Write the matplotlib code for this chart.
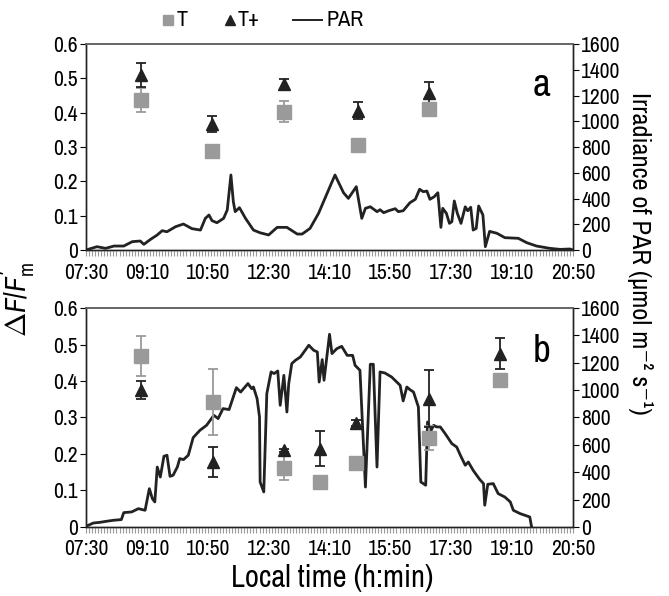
import numpy as np
import matplotlib
matplotlib.use("Agg")
import matplotlib.pyplot as plt
from matplotlib import font_manager
from matplotlib.lines import Line2D
from matplotlib.ticker import FixedLocator, MultipleLocator, FuncFormatter

# pick a narrow font if there is one
names = sorted(set(f.name for f in font_manager.fontManager.ttflist))
narrow = [n for n in names if ('Narrow' in n or 'Condensed' in n) and 'Mono' not in n
          and 'Serif' not in n]
fam = narrow[0] if narrow else ('Roboto' if 'Roboto' in names else 'DejaVu Sans')
plt.rcParams['font.family'] = [fam, 'DejaVu Sans']
plt.rcParams['mathtext.fontset'] = 'custom'
plt.rcParams['mathtext.rm'] = fam
plt.rcParams['mathtext.it'] = fam + ':italic'

# panel a: fluorescence
a_time = [540, 657, 775, 896, 1013]
a_T = [0.437, 0.287, 0.403, 0.306, 0.411]
a_T_err = [0.034, 0.012, 0.030, 0.010, 0.012]
a_Tp = [0.510, 0.367, 0.484, 0.406, 0.457]
a_Tp_err = [0.036, 0.022, 0.014, 0.025, 0.031]

# panel a: PAR
a_par_t = [450, 468, 482, 496, 512, 526, 539, 545, 556, 567, 575, 583, 597, 610, 624, 638,
           646, 652, 657, 665, 676, 682, 688, 692, 695, 702, 712, 725, 736, 750, 764, 780,
           797, 805, 818, 832, 846, 859, 873, 881, 894, 903, 909, 917, 928, 933, 939, 947,
           958, 963, 971, 982, 991, 998, 1004, 1010, 1015, 1022, 1028, 1033, 1036, 1042,
           1047, 1051, 1055, 1060, 1066, 1073, 1077, 1082, 1086, 1091, 1095, 1102, 1106,
           1113, 1125, 1138, 1160, 1174, 1190, 1212, 1229, 1245, 1250]
a_par = [0, 26, 13, 31, 31, 65, 70, 44, 83, 117, 150, 142, 181, 202, 166, 155,
         246, 272, 228, 212, 246, 311, 583, 375, 298, 329, 246, 155, 134, 117, 176, 176,
         124, 124, 168, 285, 440, 583, 445, 401, 492, 246, 324, 336, 298, 313, 290, 305,
         321, 298, 305, 367, 394, 472, 453, 458, 394, 414, 445, 176, 324, 285,
         207, 220, 381, 285, 207, 336, 305, 332, 155, 168, 342, 272, 26,
         145, 130, 96, 91, 57, 31, 13, 5, 8, 0]

# panel b: fluorescence
b_time = [541, 659, 776, 835, 894, 1014, 1130]
b_T = [0.468, 0.343, 0.162, 0.123, 0.175, 0.244, 0.402]
b_T_err = [0.054, 0.090, 0.032, 0.005, 0.005, 0.032, 0.005]
b_Tp = [0.375, 0.178, 0.210, 0.215, 0.285, 0.352, 0.475]
b_Tp_err = [0.025, 0.042, 0.005, 0.049, 0.008, 0.077, 0.042]

# panel b: PAR
b_par_t = [450, 462, 473, 484, 495, 508, 512, 525, 536, 547, 554, 559, 563, 567, 572, 578,
           583, 588, 593, 600, 604, 610, 618, 626, 637, 648, 660, 667, 675, 685, 697, 704,
           716, 722, 725, 731, 735, 736, 742, 747, 754, 759, 765, 769, 775, 780, 783, 788,
           794, 802, 810, 816, 824, 830, 833, 838, 841, 850, 854, 862, 870, 879, 888, 892,
           900, 909, 917, 922, 928, 933, 941, 952, 966, 971, 977, 982, 988, 996, 1000,
           1008, 1011, 1017, 1021, 1026, 1032, 1040, 1051, 1059, 1065, 1073, 1078, 1086,
           1097, 1103, 1105, 1110, 1119, 1127, 1138, 1147, 1152, 1163, 1179, 1182]
b_par = [5, 29, 34, 42, 49, 54, 105, 110, 134, 122, 280, 207, 183, 438, 365, 517,
         524, 370, 378, 438, 500, 492, 524, 653, 706, 743, 816, 792, 865, 858, 1018, 986,
         1048, 1011, 1023, 938, 804, 329, 256, 975, 1133, 1121, 1140, 889, 1108, 840, 1048, 1194,
         1218, 1242, 1291, 1328, 1291, 1279, 1059, 1223, 1072, 1408, 1267, 1303, 1320, 1254, 1254, 1181,
         1145, 292, 1189, 1189, 438, 1133, 1125, 1096, 1035, 921, 1023, 1004, 986, 877, 329,
         305, 767, 706, 743, 731, 731, 682, 609, 584, 524, 451, 475, 414,
         346, 317, 159, 312, 317, 244, 219, 183, 122, 98, 73, 0]

time_ticks = [450, 550, 650, 750, 850, 950, 1050, 1150, 1250]
left_ticks = [0, 0.1, 0.2, 0.3, 0.4, 0.5, 0.6]
right_ticks = [0, 200, 400, 600, 800, 1000, 1200, 1400, 1600]

grey = '#9a9a9a'
dark = '#222222'
W, H = 669, 596


def hhmm(v, pos):
    v = int(round(v))
    return "%02d:%02d" % (v // 60, v % 60)


def panel(ax, t, T, Terr, Tp, Tperr, pt, par, letter):
    ax2 = ax.twinx()
    ax2.plot(pt, par, color=dark, lw=2.0)
    ax2.set_ylim(0, 1600)
    ax2.yaxis.set_major_locator(FixedLocator(right_ticks))
    ax.set_zorder(ax2.get_zorder() + 1)
    ax.patch.set_visible(False)

    ax.errorbar(t, T, yerr=Terr, fmt='s', color=grey, ms=9.5, capsize=3.5,
                elinewidth=1.3, capthick=1.3)
    ax.errorbar(t, Tp, yerr=Tperr, fmt='^', color=dark, ms=8.5, capsize=3.5,
                elinewidth=1.3, capthick=1.3)

    ax.set_xlim(450, 1250)
    ax.set_ylim(0, 0.6)
    ax.yaxis.set_major_locator(FixedLocator(left_ticks))
    ax.yaxis.set_major_formatter(FuncFormatter(lambda v, p: "0" if v == 0 else ("%.1f" % v)))
    ax.xaxis.set_major_locator(FixedLocator(time_ticks))
    ax.xaxis.set_minor_locator(MultipleLocator(5))
    ax.xaxis.set_major_formatter(FuncFormatter(hhmm))
    ax.tick_params(axis='x', which='both', direction='out', length=4, color=grey,
                   width=0.8, labelsize=15.5, pad=5)
    ax.tick_params(axis='y', direction='out', length=4, labelsize=15.5, pad=2)
    ax2.tick_params(axis='y', direction='out', length=4, labelsize=15.5, pad=2)
    for a in (ax, ax2):
        a.spines['top'].set_color('#666666')
        a.spines['top'].set_linewidth(1.2)
        for s in ('left', 'right', 'bottom'):
            a.spines[s].set_color(dark)
            a.spines[s].set_linewidth(1.0)
    ax.text(0.935, 0.8, letter, transform=ax.transAxes, fontsize=28, ha='center', va='center')


fig = plt.figure(figsize=(6.69, 5.96), dpi=100)
axa = fig.add_axes([0.1286, 0.5805, 0.7279, 0.3456])
axb = fig.add_axes([0.1286, 0.1158, 0.7279, 0.3674])

panel(axa, a_time, a_T, a_T_err, a_Tp, a_Tp_err, a_par_t, a_par, 'a')
panel(axb, b_time, b_T, b_T_err, b_Tp, b_Tp_err, b_par_t, b_par, 'b')

# axis titles, anchored at their start so the run along the axis is fixed
fig.text(0.028, 1 - 337 / H, r'$\Delta F/F_{\mathrm{m}}^{\prime}$', rotation=90,
         rotation_mode='anchor', fontsize=21, ha='left', va='center')
fig.text(0.957, 1 - 92 / H, 'Irradiance of PAR (μmol m⁻² s⁻¹)', rotation=270,
         rotation_mode='anchor', fontsize=19, ha='left', va='center')
fig.text(0.497, 0.03, 'Local time (h:min)', fontsize=22, ha='center', va='center')

# legend, laid out by hand along the top
ly = 1 - 20 / H
fig.add_artist(Line2D([168 / W], [ly], transform=fig.transFigure, marker='s', ls='none',
                      color=grey, ms=7))
fig.text(177 / W, ly, 'T', fontsize=16, ha='left', va='center')
fig.add_artist(Line2D([230 / W], [ly], transform=fig.transFigure, marker='^', ls='none',
                      color=dark, ms=6.5))
fig.text(238 / W, ly, 'T+', fontsize=16, ha='left', va='center')
fig.add_artist(Line2D([293 / W, 322 / W], [ly, ly], transform=fig.transFigure,
                      color=dark, lw=1.4))
fig.text(326 / W, ly, 'PAR', fontsize=16, ha='left', va='center')

fig.savefig('out.png', dpi=100)
